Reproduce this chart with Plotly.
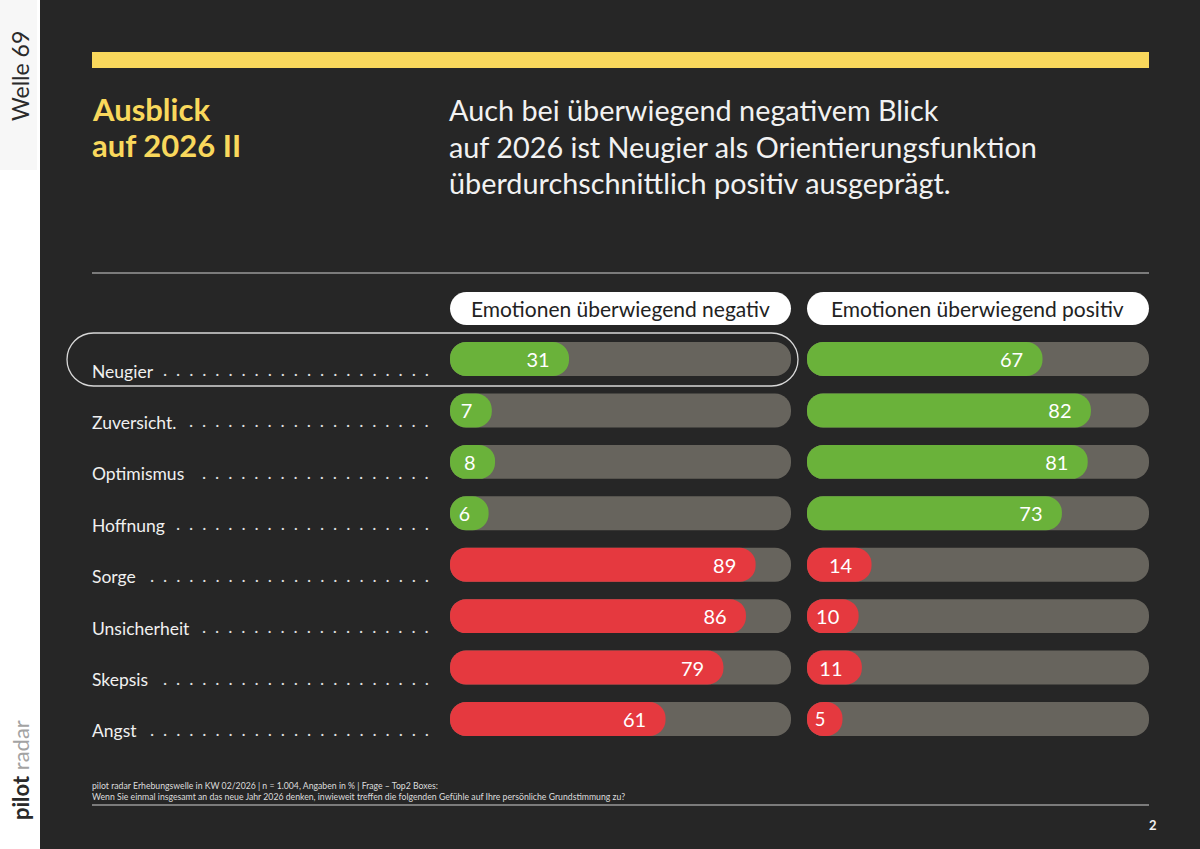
import plotly.graph_objects as go

# ---------------- data ----------------
categories = ["Neugier", "Zuversicht.", "Optimismus", "Hoffnung",
              "Sorge", "Unsicherheit", "Skepsis", "Angst"]
emotion_kind = ["pos", "pos", "pos", "pos", "neg", "neg", "neg", "neg"]
share_negative_mood = [31, 7, 8, 6, 89, 86, 79, 61]   # "Emotionen überwiegend negativ"
share_positive_mood = [67, 82, 81, 73, 14, 10, 11, 5]  # "Emotionen überwiegend positiv"
column_titles = ["Emotionen überwiegend negativ", "Emotionen überwiegend positiv"]
highlight = "Neugier"

title_lines = ["Ausblick", "auf 2026 II"]
subtitle_lines = ["Auch bei überwiegend negativem Blick",
                  "auf 2026 ist Neugier als Orientierungsfunktion",
                  "überdurchschnittlich positiv ausgeprägt."]
footnote_lines = ["pilot radar Erhebungswelle in KW 02/2026 | n = 1.004, Angaben in % | Frage – Top2 Boxes:",
                  "Wenn Sie einmal insgesamt an das neue Jahr 2026 denken, inwieweit treffen die folgenden Gefühle auf Ihre persönliche Grundstimmung zu?"]

# ---------------- style ----------------
W, H = 1200, 849
BG = "#262626"
GREEN = "#6AB23A"
RED = "#E5393F"
TRACK = "#67645D"
YELLOW = "#F9D85C"
FONT = "Lato"
PAD = 6  # rounded cap allowance in axis units
LEADER_DOTS = [21, 19, 18, 20, 22, 18, 21, 22]


def X(px):
    return px / W


def Y(py):
    return 1 - py / H


def pill_path(x0, y0, x1, y1):
    r = (y1 - y0) / 2
    k = 0.5523 * r
    pts = [
        f"M {X(x0 + r)} {Y(y0)}",
        f"L {X(x1 - r)} {Y(y0)}",
        f"C {X(x1 - r + k)} {Y(y0)} {X(x1)} {Y(y0 + r - k)} {X(x1)} {Y(y0 + r)}",
        f"C {X(x1)} {Y(y0 + r + k)} {X(x1 - r + k)} {Y(y1)} {X(x1 - r)} {Y(y1)}",
        f"L {X(x0 + r)} {Y(y1)}",
        f"C {X(x0 + r - k)} {Y(y1)} {X(x0)} {Y(y1 - r + k)} {X(x0)} {Y(y1 - r)}",
        f"C {X(x0)} {Y(y0 + r - k)} {X(x0 + r - k)} {Y(y0)} {X(x0 + r)} {Y(y0)}",
        "Z",
    ]
    return " ".join(pts)


colors = [GREEN if k == "pos" else RED for k in emotion_kind]

fig = go.Figure()
for values, xa in [(share_negative_mood, "x"), (share_positive_mood, "x2")]:
    fig.add_trace(go.Bar(
        y=categories, x=[100 + PAD] * len(categories), base=-PAD,
        orientation="h", xaxis=xa, yaxis="y",
        marker=dict(color=TRACK, cornerradius="50%", line=dict(width=0)),
        hoverinfo="skip", showlegend=False))
    fig.add_trace(go.Bar(
        y=categories, x=[v + PAD for v in values], base=-PAD,
        orientation="h", xaxis=xa, yaxis="y",
        marker=dict(color=colors, cornerradius="50%", line=dict(width=0)),
        text=[f"{v}\u00a0\u00a0" for v in values],
        textposition="inside", insidetextanchor="end", constraintext="none",
        textfont=dict(family=FONT, size=20, color="white"),
        hoverinfo="skip", showlegend=False))

axis_common = dict(range=[-PAD, 100], showgrid=False, zeroline=False,
                   showticklabels=False, fixedrange=True, anchor="y")

shapes = [
    dict(type="rect", xref="paper", yref="paper", x0=X(0), x1=X(40), y0=0, y1=1,
         fillcolor="#ffffff", line=dict(width=0), layer="below"),
    dict(type="rect", xref="paper", yref="paper", x0=X(0), x1=X(37), y0=Y(170), y1=1,
         fillcolor="#f7f7f7", line=dict(width=0), layer="below"),
    dict(type="rect", xref="paper", yref="paper", x0=X(92), x1=X(1149), y0=Y(68), y1=Y(52),
         fillcolor=YELLOW, line=dict(width=0)),
    dict(type="line", xref="paper", yref="paper", x0=X(92), x1=X(1149), y0=Y(273), y1=Y(273),
         line=dict(color="#d0d0d0", width=1)),
    dict(type="line", xref="paper", yref="paper", x0=X(92), x1=X(1149), y0=Y(805), y1=Y(805),
         line=dict(color="#d0d0d0", width=1.2)),
    dict(type="path", xref="paper", yref="paper", path=pill_path(450, 292, 791, 325),
         fillcolor="#ffffff", line=dict(width=0)),
    dict(type="path", xref="paper", yref="paper", path=pill_path(807, 292, 1149, 325),
         fillcolor="#ffffff", line=dict(width=0)),
    dict(type="path", xref="paper", yref="paper", path=pill_path(67, 333, 798, 386),
         fillcolor="rgba(0,0,0,0)", line=dict(color="#d8d8d8", width=1.3)),
]

ann = []
# side strip texts
ann.append(dict(text="Welle 69", x=X(20), y=Y(76), xref="paper", yref="paper",
                textangle=-90, showarrow=False, xanchor="center", yanchor="middle",
                font=dict(family=FONT, size=23, color="#2a2a2a")))
ann.append(dict(text="<b>pilot</b> <span style='color:#a3a3a3'>radar</span>",
                x=X(20), y=Y(770), xref="paper", yref="paper",
                textangle=-90, showarrow=False, xanchor="center", yanchor="middle",
                font=dict(family=FONT, size=22, color="#2a2a2a")))
# title
for i, line in enumerate(title_lines):
    ann.append(dict(text=f"<b>{line}</b>", x=X(90), y=Y(109 + 36 * i), xref="paper", yref="paper",
                    showarrow=False, xanchor="left", yanchor="middle",
                    font=dict(family=FONT, size=31, color=YELLOW)))
for i, line in enumerate(subtitle_lines):
    ann.append(dict(text=line, x=X(447), y=Y(110 + 36.5 * i), xref="paper", yref="paper",
                    showarrow=False, xanchor="left", yanchor="middle",
                    font=dict(family=FONT, size=28.8, color="#f2f2f2")))
# column headers
for t, (a, b) in zip(column_titles, [(450, 791), (807, 1149)]):
    ann.append(dict(text=t, x=X((a + b) / 2), y=Y(309), xref="paper", yref="paper",
                    showarrow=False, xanchor="center", yanchor="middle",
                    font=dict(family=FONT, size=21, color="#222222")))
# row labels + leader dots
for cat, nd in zip(categories, LEADER_DOTS):
    ann.append(dict(text=cat, x=X(90), y=cat, xref="paper", yref="y", yshift=-12,
                    showarrow=False, xanchor="left", yanchor="middle",
                    font=dict(family=FONT, size=17.5, color="#f0f0f0")))
    ann.append(dict(text="\u2002".join(["."] * nd), x=X(431), y=cat, xref="paper", yref="y",
                    yshift=-10, showarrow=False, xanchor="right", yanchor="middle",
                    font=dict(family=FONT, size=17.8, color="#e0e0e0")))
# footnote
for i, line in enumerate(footnote_lines):
    ann.append(dict(text=line, x=X(90), y=Y(785 + 11 * i), xref="paper", yref="paper",
                    showarrow=False, xanchor="left", yanchor="middle",
                    font=dict(family=FONT, size=8.7, color="#dddddd")))
ann.append(dict(text="<b>2</b>", x=X(1153), y=Y(825), xref="paper", yref="paper",
                showarrow=False, xanchor="center", yanchor="middle",
                font=dict(family=FONT, size=13, color="#f0f0f0")))

fig.update_layout(
    width=W, height=H, margin=dict(l=0, r=0, t=0, b=0),
    paper_bgcolor=BG, plot_bgcolor="rgba(0,0,0,0)",
    barmode="overlay", bargap=0.34,
    xaxis=dict(domain=[X(450), X(791)], **axis_common),
    xaxis2=dict(domain=[X(807), X(1149)], **axis_common),
    yaxis=dict(domain=[Y(744.7), Y(333.3)], type="category",
               categoryorder="array", categoryarray=categories, autorange="reversed",
               showgrid=False, zeroline=False, showticklabels=False, fixedrange=True),
    shapes=shapes, annotations=ann, font=dict(family=FONT),
)

fig.write_html("out.html", config={"displayModeBar": False},
               post_script="document.body.style.margin='0';document.body.style.overflow='hidden';")
